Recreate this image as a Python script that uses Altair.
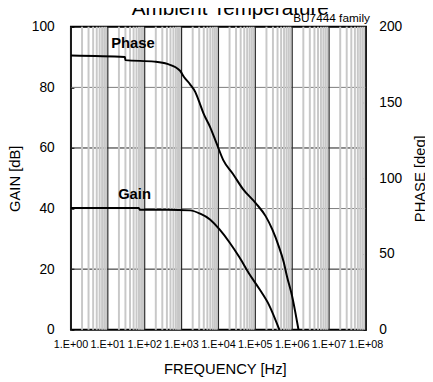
import altair as alt
import pandas as pd

# ---- data ----
gain_freq = [1, 69, 74, 410, 1700, 3200, 5900, 10700, 20000, 37000, 68000, 126000, 234000, 447000]
gain_db = [40.2, 40.2, 39.6, 39.6, 39.4, 38.3, 36.4, 33.1, 28.8, 23.9, 18.5, 13.6, 8.2, 0.0]

phase_freq = [1, 29, 30, 182, 410, 910, 1150, 1700, 2340, 3160, 3900, 5900, 8900, 13500,
              24500, 45700, 102000, 190000, 288000, 427000, 589000, 724000, 977000, 1200000, 1480000]
phase_deg = [181, 180, 178, 177, 175.5, 171, 167, 162, 157, 149, 143, 134, 123, 112,
             103, 93, 83.6, 75, 66.2, 55.4, 44.6, 35, 22.9, 12.1, 0]

decades = [1, 10, 100, 1000, 10000, 100000, 1000000, 10000000, 100000000]
x_tick_labels = ["1.E+00", "1.E+01", "1.E+02", "1.E+03", "1.E+04",
                 "1.E+05", "1.E+06", "1.E+07", "1.E+08"]
minor_steps = [2, 3, 4, 5, 6, 7, 8, 9]
gain_grid = [20, 40, 60, 80]
gain_ticks = [0, 20, 40, 60, 80, 100]
phase_ticks = [0, 50, 100, 150, 200]

title_text = ["Ambient Temperature"]
subtitle_text = ["BU7444 family"]
x_title_text = ["FREQUENCY [Hz]"]
series_labels = ["Phase", "Gain"]

FONT = "Liberation Sans"

minor_freq = [d * m for d in decades[:-1] for m in minor_steps]

x_scale = alt.Scale(type="log", domain=[1, 100000000])
gain_scale = alt.Scale(domain=[0, 100], nice=False, zero=False)
phase_scale = alt.Scale(domain=[0, 200], nice=False, zero=False)

gain_df = pd.DataFrame({"f": gain_freq, "g": gain_db})
phase_df = pd.DataFrame({"f": phase_freq, "p": phase_deg})
xlab_df = pd.DataFrame({"f": decades, "t": x_tick_labels})

hgrid = alt.Chart(pd.DataFrame({"g": gain_grid})).transform_calculate(
    c="datum.g % 40 == 0 ? '#7a7a7a' : '#1a1a1a'"
).mark_rule(strokeWidth=1).encode(
    y=alt.Y("g:Q", scale=gain_scale, axis=None),
    color=alt.Color("c:N", scale=None),
)

minor = alt.Chart(pd.DataFrame({"f": minor_freq})).mark_rule(
    color="#c8c8c8", strokeWidth=2
).encode(x=alt.X("f:Q", scale=x_scale, axis=None))

major = alt.Chart(pd.DataFrame({"f": decades})).mark_rule(
    color="#2a2a2a", strokeWidth=1.2
).encode(x=alt.X("f:Q", scale=x_scale, axis=None))

x_labels = alt.Chart(xlab_df).mark_text(
    font=FONT, fontSize=11, align="center", baseline="alphabetic", color="black"
).encode(
    x=alt.X("f:Q", scale=x_scale, axis=None),
    y=alt.value(327),
    text="t:N",
)

x_title = alt.Chart(pd.DataFrame({"t": x_title_text})).mark_text(
    font=FONT, fontSize=15, align="center", baseline="alphabetic", color="black"
).encode(text="t:N", x=alt.value(157), y=alt.value(353))

gain_line = alt.Chart(gain_df).mark_line(color="black", strokeWidth=2, interpolate="monotone").encode(
    x=alt.X("f:Q", scale=x_scale, axis=None),
    y=alt.Y(
        "g:Q",
        scale=gain_scale,
        axis=alt.Axis(
            orient="left",
            values=gain_ticks,
            tickSize=3,
            tickColor="black",
            domain=False,
            grid=False,
            offset=-3,
            labelPadding=17,
            labelFontSize=14,
            labelColor="black",
            title="GAIN [dB]",
            titleFontSize=15,
            titleFontWeight="normal",
            titleColor="black",
            titleX=-55,
            titleY=154,
            titleAngle=270,
            titleAlign="center",
            titleBaseline="alphabetic",
        ),
    ),
)

phase_line = alt.Chart(phase_df).mark_line(color="black", strokeWidth=2, interpolate="monotone").encode(
    x=alt.X("f:Q", scale=x_scale, axis=None),
    y=alt.Y(
        "p:Q",
        scale=phase_scale,
        axis=alt.Axis(
            orient="right",
            values=phase_ticks,
            tickSize=3,
            tickColor="black",
            domain=False,
            grid=False,
            offset=-3,
            labelPadding=13,
            labelFontSize=14,
            labelColor="black",
            title="PHASE [deg]",
            titleFontSize=15,
            titleFontWeight="normal",
            titleColor="black",
            titleX=63,
            titleY=154,
            titleAngle=270,
            titleAlign="center",
            titleBaseline="alphabetic",
        ),
    ),
)

phase_label = alt.Chart(pd.DataFrame({"t": [series_labels[0]]})).mark_text(
    font=FONT, fontSize=15, fontWeight="bold", align="left", baseline="alphabetic", color="black"
).encode(text="t:N", x=alt.value(41), y=alt.value(22))

gain_label = alt.Chart(pd.DataFrame({"t": [series_labels[1]]})).mark_text(
    font=FONT, fontSize=15, fontWeight="bold", align="left", baseline="alphabetic", color="black"
).encode(text="t:N", x=alt.value(48), y=alt.value(175))

title = alt.Chart(pd.DataFrame({"t": title_text})).mark_text(
    font=FONT, fontSize=21, align="center", baseline="alphabetic", color="black"
).encode(text="t:N", x=alt.value(162), y=alt.value(-12))

subtitle = alt.Chart(pd.DataFrame({"t": subtitle_text})).mark_text(
    font=FONT, fontSize=12, align="right", baseline="alphabetic", color="black"
).encode(text="t:N", x=alt.value(304), y=alt.value(-5))

chart = (
    alt.layer(hgrid, minor, major, gain_line, phase_line, x_labels, x_title,
              phase_label, gain_label, title, subtitle)
    .resolve_scale(y="independent")
    .properties(
        width=300,
        height=308,
        autosize="none",
        padding={"left": 64, "top": 16, "right": 60, "bottom": 48},
        background="white",
    )
    .configure(font=FONT)
    .configure_view(stroke="black", strokeWidth=2)
)

chart.save("out.html", embed_options={"renderer": "svg", "actions": False})
